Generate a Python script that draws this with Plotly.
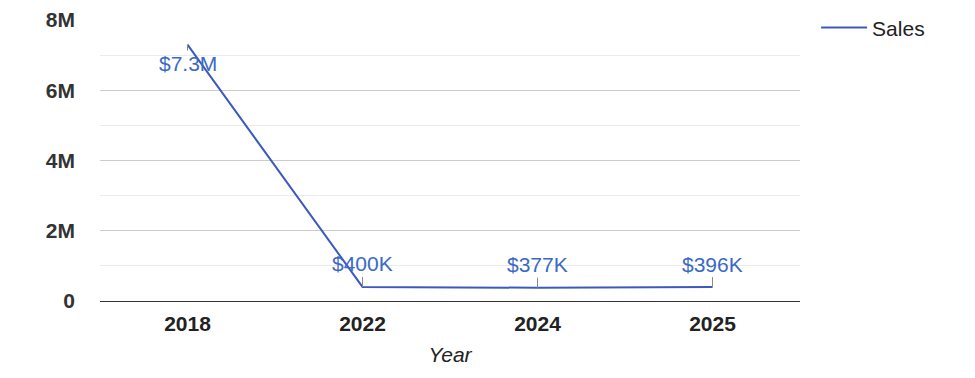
import plotly.graph_objects as go

years = ["2018", "2022", "2024", "2025"]
sales = [7300000, 400000, 377000, 396000]
labels = ["$7.3M", "$400K", "$377K", "$396K"]
label_offsets = [19, -23, -23, -23]

y_tickvals = [0, 2000000, 4000000, 6000000, 8000000]
y_ticktext = ["0", "2M", "4M", "6M", "8M"]

LINE = "#3d59bf"
TEXT = "#3a69c6"
FONT = "Liberation Sans, Arial, sans-serif"

fig = go.Figure()
fig.add_trace(go.Scatter(
    x=years, y=sales, mode="lines", name="Sales",
    line=dict(color=LINE, width=2), showlegend=True,
))

for i, (y, t, off) in enumerate(zip(sales, labels, label_offsets)):
    fig.add_annotation(
        x=i, y=y, text=t, showarrow=True, arrowhead=0, arrowwidth=1,
        arrowcolor="#8a8a8a", ax=0, ay=off,
        font=dict(family=FONT, size=21, color=TEXT),
    )

fig.update_layout(
    width=967, height=370,
    margin=dict(l=92, r=175, t=12, b=77, autoexpand=False),
    paper_bgcolor="white", plot_bgcolor="white",
    font=dict(family=FONT, color="#333333"),
    legend=dict(x=1.023, y=1.045, xanchor="left", yanchor="top", itemwidth=46,
                font=dict(size=21, color="#222222"), bgcolor="rgba(0,0,0,0)"),
    xaxis=dict(
        type="category", range=[-0.5, 3.5], showgrid=False, showline=False, ticks="",
        automargin=False, ticklabelstandoff=8,
        tickfont=dict(size=21, family=FONT, color="#222222", weight="bold"),
        title=dict(text="<i>Year</i>", font=dict(size=21, color="#222222"), standoff=13),
    ),
    yaxis=dict(
        range=[0, 8000000], tickvals=y_tickvals, ticktext=y_ticktext,
        showgrid=True, gridcolor="#cccccc", gridwidth=1,
        minor=dict(dtick=1000000, showgrid=True, gridcolor="#ebebeb"),
        zeroline=True, zerolinecolor="#333333", zerolinewidth=1,
        tickfont=dict(size=21, family=FONT, color="#333333", weight="bold"),
        ticks="", ticklabelstandoff=24, automargin=False,
    ),
)

fig.write_html("out.html")
